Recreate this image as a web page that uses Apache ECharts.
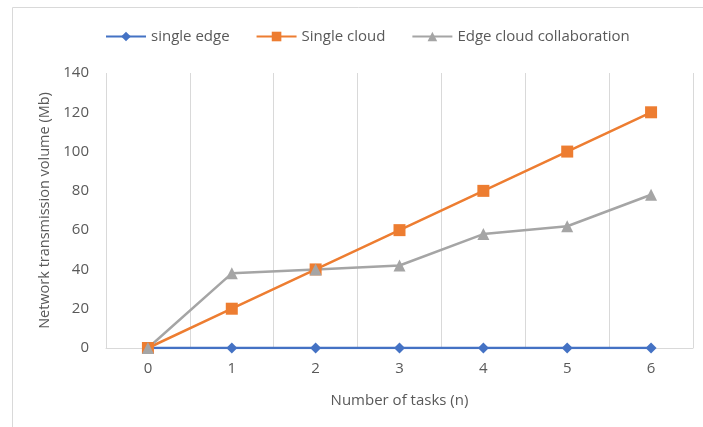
<!DOCTYPE html>
<html>
<head>
<meta charset="utf-8">
<script src="https://cdn.jsdelivr.net/npm/echarts@6/dist/echarts.min.js"></script>
<style>html,body{margin:0;padding:0;background:#fff}#c{width:703px;height:427px}</style>
</head>
<body>
<div id="c"></div>
<script>
var categories = ['0', '1', '2', '3', '4', '5', '6'];
var singleEdge = [0, 0, 0, 0, 0, 0, 0];
var singleCloud = [0, 20, 40, 60, 80, 100, 120];
var edgeCloud = [0, 38, 40, 42, 58, 62, 78];
var seriesNames = ['single edge', 'Single cloud', 'Edge cloud collaboration'];

var font = 'Open Sans';
var txt = '#595959';
var chart = echarts.init(document.getElementById('c'));
chart.setOption({
  animation: false,
  graphic: [{
    type: 'rect', left: 10, top: 5,
    shape: { width: 720, height: 450 },
    style: { fill: 'none', stroke: '#d9d9d9', lineWidth: 1 }, silent: true
  }],
  legend: {
    top: 24, left: 100,
    itemWidth: 40, itemHeight: 12, itemGap: 26,
    textStyle: { color: txt, fontFamily: font, fontSize: 15 },
    data: seriesNames
  },
  grid: { left: 106, right: 10, top: 73, bottom: 79, containLabel: false },
  xAxis: {
    type: 'category', data: categories, boundaryGap: true,
    name: 'Number of tasks (n)', nameLocation: 'middle', nameGap: 45,
    nameTextStyle: { color: txt, fontFamily: font, fontSize: 15 },
    axisLine: { lineStyle: { color: '#d9d9d9', width: 1 } },
    axisTick: { show: false },
    axisLabel: { color: txt, fontFamily: font, fontSize: 15, margin: 13 },
    splitLine: { show: true, lineStyle: { color: '#d9d9d9', width: 1 } }
  },
  yAxis: {
    type: 'value', min: 0, max: 140, interval: 20,
    name: 'Network transmission volume (Mb)', nameLocation: 'middle', nameGap: 54,
    nameTextStyle: { color: txt, fontFamily: font, fontSize: 14.5 },
    axisLine: { show: false }, axisTick: { show: false },
    axisLabel: { color: txt, fontFamily: font, fontSize: 15, margin: 17 },
    splitLine: { show: false }
  },
  series: [
    { name: seriesNames[0], type: 'line', data: singleEdge, color: '#4472C4',
      symbol: 'diamond', symbolSize: 11, lineStyle: { width: 2.5 } },
    { name: seriesNames[1], type: 'line', data: singleCloud, color: '#ED7D31',
      symbol: 'rect', symbolSize: 12, lineStyle: { width: 2.5 } },
    { name: seriesNames[2], type: 'line', data: edgeCloud, color: '#A5A5A5',
      symbol: 'triangle', symbolSize: 12, lineStyle: { width: 2.5 } }
  ]
});
</script>
</body>
</html>
